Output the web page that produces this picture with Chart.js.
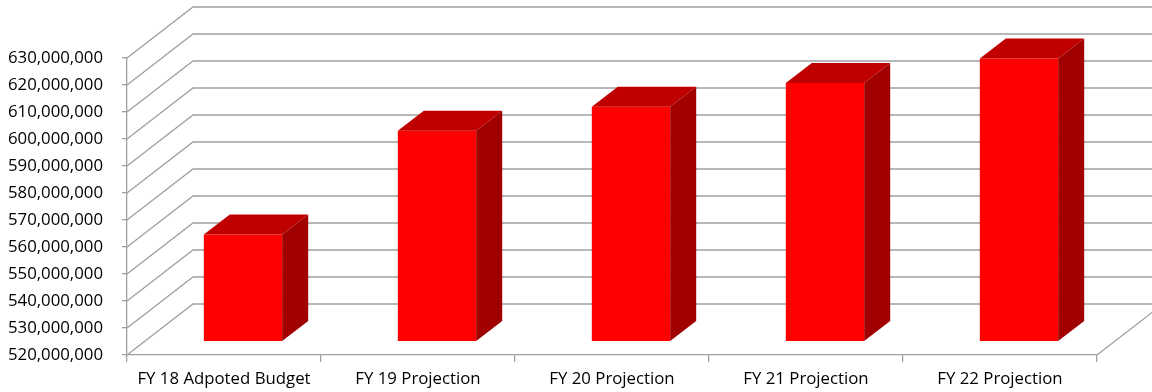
<!DOCTYPE html>
<html>
<head>
<meta charset="utf-8">
<script src="https://cdn.jsdelivr.net/npm/chart.js@4.4.1/dist/chart.umd.min.js"></script>
<style>
  html, body { margin: 0; padding: 0; background: #fff; }
  #budget-chart { display: block; }
</style>
</head>
<body>
<canvas id="budget-chart" width="1152" height="392"></canvas>
<script>
const categories = ['FY 18 Adpoted Budget', 'FY 19 Projection', 'FY 20 Projection', 'FY 21 Projection', 'FY 22 Projection'];
const budgetValues = [559400000, 597900000, 606800000, 615600000, 624600000];
const axisMin = 520000000;
const axisMax = 630000000;
const axisStep = 10000000;

const FONT = '"Open Sans", sans-serif';
const GRID_COLOR = '#a0a0a0';

// wall depth and bar placement for the fake 3d look
const WALL = { dx: 66, dy: -51 };
const BAR_SHIFT = { dx: 19, dy: -14 };
const BAR_DEPTH = { dx: 26, dy: -20 };
const FACE = { front: '#ff0000', top: '#c00000', side: '#a00000' };

function line(ctx, pts) {
  ctx.beginPath();
  ctx.moveTo(pts[0][0], pts[0][1]);
  pts.slice(1).forEach(p => ctx.lineTo(p[0], p[1]));
  ctx.stroke();
}

function poly(ctx, pts, color) {
  ctx.beginPath();
  ctx.moveTo(pts[0][0], pts[0][1]);
  pts.slice(1).forEach(p => ctx.lineTo(p[0], p[1]));
  ctx.closePath();
  ctx.fillStyle = color;
  ctx.fill();
}

const wallsPlugin = {
  id: 'walls3d',
  beforeDatasetsDraw(chart) {
    const { ctx, chartArea, scales } = chart;
    const left = chartArea.left, right = chartArea.right;
    const farRight = right + WALL.dx;
    ctx.save();
    ctx.strokeStyle = GRID_COLOR;
    ctx.lineWidth = 1.3;
    scales.y.ticks.forEach(t => {
      const y = scales.y.getPixelForValue(t.value);
      line(ctx, [[left, y], [left + WALL.dx, y + WALL.dy], [farRight, y + WALL.dy]]);
    });
    // floor edge on the right
    const yBase = scales.y.getPixelForValue(axisMin);
    line(ctx, [[right, yBase], [farRight, yBase + WALL.dy]]);
    ctx.restore();
  },
  afterDatasetsDraw(chart) {
    const { ctx, scales } = chart;
    const meta = chart.getDatasetMeta(0);
    const yBase = scales.y.getPixelForValue(axisMin) + BAR_SHIFT.dy;
    ctx.save();
    meta.data.forEach((bar, i) => {
      const x0 = bar.x - bar.width / 2 + BAR_SHIFT.dx;
      const x1 = bar.x + bar.width / 2 + BAR_SHIFT.dx;
      const yTop = scales.y.getPixelForValue(budgetValues[i]) + BAR_SHIFT.dy;
      const dx = BAR_DEPTH.dx, dy = BAR_DEPTH.dy;
      poly(ctx, [[x0, yTop], [x1, yTop], [x1, yBase], [x0, yBase]], FACE.front);
      poly(ctx, [[x0, yTop], [x0 + dx, yTop + dy], [x1 + dx, yTop + dy], [x1, yTop]], FACE.top);
      poly(ctx, [[x1, yTop], [x1 + dx, yTop + dy], [x1 + dx, yBase + dy], [x1, yBase]], FACE.side);
    });
    ctx.restore();
  }
};

new Chart(document.getElementById('budget-chart'), {
  type: 'bar',
  data: {
    labels: categories,
    datasets: [{
      data: budgetValues,
      backgroundColor: 'rgba(0,0,0,0)',
      borderWidth: 0,
      barPercentage: 0.404,
      categoryPercentage: 1
    }]
  },
  options: {
    responsive: false,
    animation: false,
    layout: { padding: { top: 58, right: 55, left: 0, bottom: 0 } },
    plugins: { legend: { display: false }, tooltip: { enabled: false } },
    scales: {
      x: {
        grid: { drawOnChartArea: false, drawTicks: true, tickLength: 7, color: GRID_COLOR, lineWidth: 1.3 },
        border: { display: true, color: GRID_COLOR, width: 1.3 },
        ticks: { color: '#000', font: { family: FONT, size: 16.8 }, padding: 7, maxRotation: 0, autoSkip: false },
        afterFit: s => { s.height = 37; }
      },
      y: {
        min: axisMin,
        max: axisMax,
        grid: { drawOnChartArea: false, drawTicks: true, tickLength: 5, color: GRID_COLOR, lineWidth: 1.3 },
        border: { display: true, color: GRID_COLOR, width: 1.3 },
        ticks: {
          stepSize: axisStep,
          color: '#000',
          font: { family: FONT, size: 16.8, lineHeight: 1.1 },
          padding: 19,
          callback: v => v.toLocaleString('en-US')
        },
        afterFit: s => { s.width = 127; }
      }
    }
  },
  plugins: [wallsPlugin]
});
</script>
</body>
</html>
